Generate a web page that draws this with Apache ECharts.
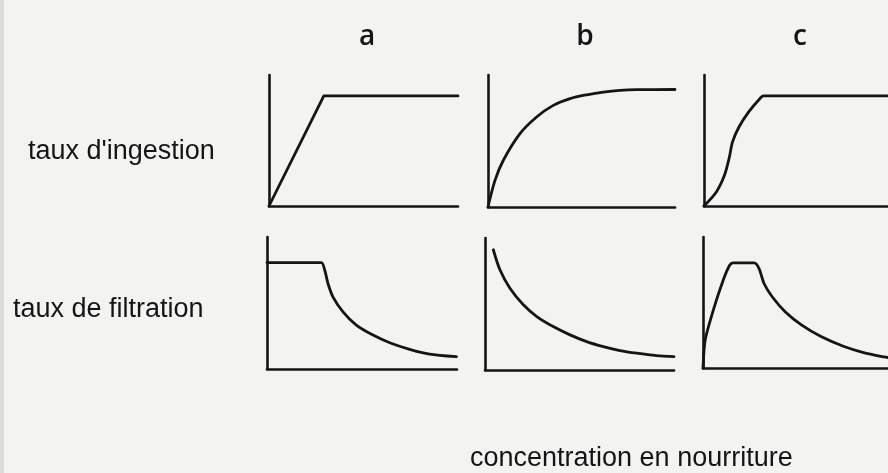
<!DOCTYPE html>
<html>
<head>
<meta charset="utf-8">
<script src="https://cdn.jsdelivr.net/npm/echarts@6/dist/echarts.min.js"></script>
<style>
  html, body { margin: 0; padding: 0; background: #f3f3f1; }
  #chart { width: 888px; height: 473px; }
</style>
</head>
<body>
<div id="chart"></div>
<script>
// Column letters and row titles
const columnLabels = ['a', 'b', 'c'];
const rowLabels = ["taux d'ingestion", 'taux de filtration'];
const xAxisTitle = 'concentration en nourriture';

// Ingestion rate vs food concentration (x and y on a 0-10 scale)
const ingestionA = [[0, 0], [2.9, 8.4], [10, 8.4]];
const ingestionB = [
  [0, 0], [0.37, 2.0], [0.82, 3.54], [1.71, 5.56], [2.6, 6.82], [3.49, 7.7],
  [4.39, 8.21], [5.28, 8.5], [6.17, 8.71], [7.06, 8.84], [7.95, 8.89], [10, 8.9]
];
const ingestionC = [
  [0, 0], [0.67, 1.07], [1.11, 2.34], [1.38, 3.74], [1.55, 4.89], [1.9, 6.03],
  [2.43, 7.18], [2.96, 8.07], [3.23, 8.4], [10, 8.4]
];

// Filtration rate vs food concentration
const filtrationA = [
  [0, 8.06], [2.86, 8.06], [3.04, 7.48], [3.21, 6.48], [3.47, 5.47], [4.0, 4.33],
  [4.7, 3.33], [5.58, 2.57], [6.46, 1.99], [7.51, 1.49], [8.56, 1.13], [9.97, 0.93]
];
const filtrationB = [
  [0.44, 9.11], [0.79, 7.59], [1.32, 6.2], [2.03, 4.94], [2.74, 4.05], [3.61, 3.29],
  [4.5, 2.66], [5.38, 2.15], [6.26, 1.77], [7.14, 1.47], [8.03, 1.27], [9.08, 1.09], [10, 1.01]
];
const filtrationC = [
  [0, 0], [0.12, 2.15], [0.56, 4.43], [1.09, 6.7], [1.44, 7.84], [1.62, 8.02],
  [2.77, 8.02], [3.03, 7.59], [3.3, 6.45], [3.74, 5.44], [4.44, 4.3], [5.32, 3.29],
  [6.38, 2.4], [7.62, 1.64], [8.68, 1.18], [9.8, 0.84], [10, 0.8]
];

const panelData = [ingestionA, ingestionB, ingestionC, filtrationA, filtrationB, filtrationC];
// straight segments for the piecewise-linear panel, curves elsewhere
const panelSmooth = [false, 0.3, 0.3, 0.25, 0.3, 0.25];

// Panel placement (pixels)
const panelBoxes = [
  { left: 269, top: 75, width: 189, height: 131 },
  { left: 488, top: 75, width: 187, height: 132 },
  { left: 704, top: 75, width: 189, height: 131 },
  { left: 267, top: 237, width: 190, height: 132 },
  { left: 485, top: 238, width: 189, height: 132 },
  { left: 703, top: 237, width: 189, height: 131 }
];

const ink = '#151515';
const chart = echarts.init(document.getElementById('chart'), null, { renderer: 'canvas' });

const axisBase = {
  type: 'value', min: 0, max: 10,
  axisLine: { show: true, onZero: false, lineStyle: { color: ink, width: 2.6 } },
  axisTick: { show: false },
  axisLabel: { show: false },
  splitLine: { show: false }
};

const grids = panelBoxes.map(b => ({ left: b.left, top: b.top, width: b.width, height: b.height }));
const xAxes = panelBoxes.map((b, i) => Object.assign({ gridIndex: i }, axisBase));
const yAxes = panelBoxes.map((b, i) => Object.assign({ gridIndex: i }, axisBase));
const series = panelData.map((d, i) => ({
  type: 'line',
  xAxisIndex: i,
  yAxisIndex: i,
  data: d,
  smooth: panelSmooth[i],
  showSymbol: false,
  clip: false,
  lineStyle: { color: ink, width: 2.8, cap: 'round', join: 'round' },
  silent: true
}));

const letterX = [367, 585, 800];
const textEls = [];
columnLabels.forEach((t, i) => {
  textEls.push({
    type: 'text', x: letterX[i], y: 37,
    style: {
      text: t, fill: ink, font: '600 28px "Open Sans", "DejaVu Sans", sans-serif',
      textAlign: 'center', textVerticalAlign: 'middle'
    }
  });
});
const rowX = [28, 13];
const rowY = [152, 310];
rowLabels.forEach((t, i) => {
  textEls.push({
    type: 'text', x: rowX[i], y: rowY[i],
    style: {
      text: t, fill: ink, font: '27px "Liberation Sans", Arial, sans-serif',
      textAlign: 'left', textVerticalAlign: 'middle'
    }
  });
});
textEls.push({
  type: 'text', x: 470, y: 459,
  style: {
    text: xAxisTitle, fill: ink, font: '27px "Liberation Sans", Arial, sans-serif',
    textAlign: 'left', textVerticalAlign: 'middle'
  }
});
// faint darker strip along the left border of the sheet
textEls.push({ type: 'rect', shape: { x: 0, y: 0, width: 4, height: 473 }, style: { fill: '#dcdcda' }, z: -1 });

chart.setOption({
  backgroundColor: '#f3f3f1',
  animation: false,
  grid: grids,
  xAxis: xAxes,
  yAxis: yAxes,
  series: series,
  graphic: textEls
});
</script>
</body>
</html>
